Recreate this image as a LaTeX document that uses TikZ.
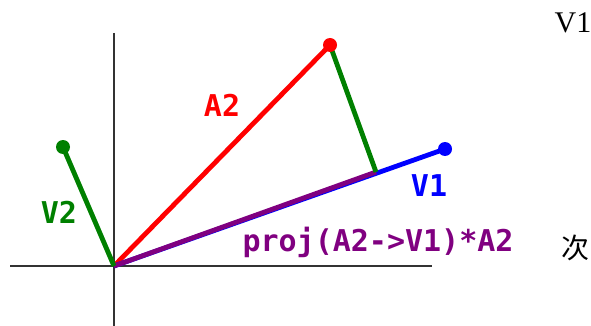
\documentclass[tikz,border=0pt]{standalone}
\usepackage{fontspec}
\newfontfamily\monob{DejaVu Sans Mono}
\newfontfamily\serifv{Liberation Serif}
\newfontfamily\cjk{Noto Sans CJK SC}
\definecolor{vgreen}{RGB}{0,128,0}
\definecolor{vpurple}{RGB}{128,0,128}
\tikzset{
  axis/.style={line width=1.6pt, black!80},
  vec/.style={line width=4.8pt},
  tipdot/.style={circle, inner sep=0pt, minimum size=14pt, fill=#1},
  lbl/.style={font=\monob\bfseries\fontsize{30}{30}\selectfont, text=#1, inner sep=0pt},
  side/.style={font=#1, inner sep=0pt}
}
\begin{document}
\begin{tikzpicture}[x=1pt,y=-1pt]
\useasboundingbox (0,0) rectangle (591,326);
\coordinate (O) at (114,266);
\coordinate (xl) at (10,266);
\coordinate (xr) at (432,266);
\coordinate (yt) at (114,33);
\coordinate (yb) at (114,326);
\coordinate (A) at (330,45);
\coordinate (V) at (445,149);
\coordinate (W) at (63,147);
\coordinate (P) at (376,172);
\draw[axis] (xl) -- (xr);
\draw[axis] (yt) -- (yb);
\draw[vec, red] (O) -- (A);
\draw[vec, blue] (O) -- (V);
\draw[vec, vpurple] (O) -- (P);
\draw[vec, vgreen] (O) -- (W);
\draw[vec, vgreen] (A) -- (P);
\node[tipdot=red] (Ad) at (A) {};
\node[tipdot=blue] (Vd) at (V) {};
\node[tipdot=vgreen] (Wd) at (W) {};
\node[lbl=red] (la) at (222,105) {A2};
\node[lbl=vgreen] (lw) at (59,212) {V2};
\node[lbl=blue] (lv) at (429,186) {V1};
\node[lbl=vpurple] (lp) at (378,242) {proj(A2->V1)*A2};
\node[side=\serifv\fontsize{30}{30}\selectfont] (t1) at (573,23) {V1};
\node[side=\cjk\fontsize{28}{28}\selectfont] (t2) at (575,248) {次};
\end{tikzpicture}
\end{document}
